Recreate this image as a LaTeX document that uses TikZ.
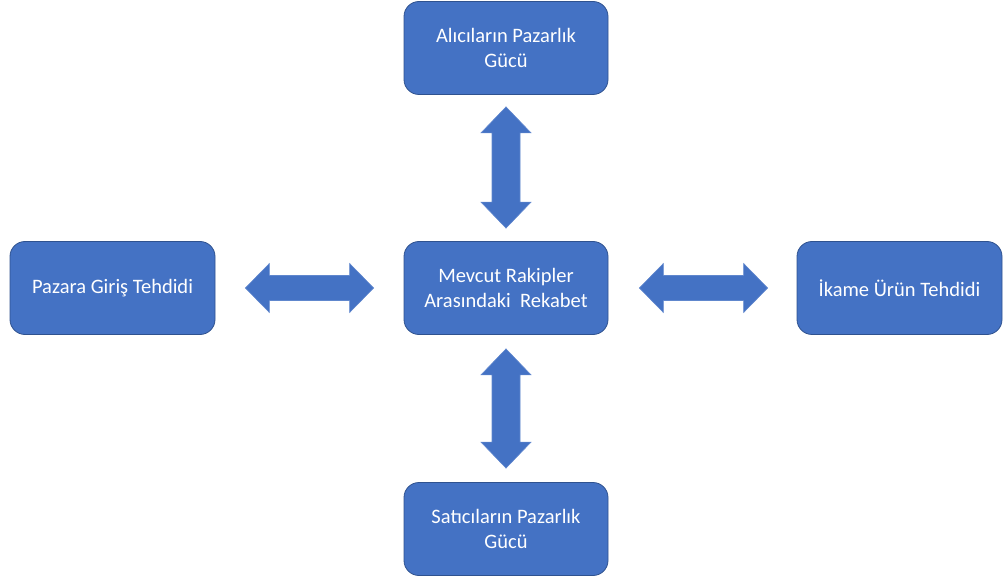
\documentclass[tikz,border=0pt]{standalone}
\usepackage{fontspec}
\setmainfont{Carlito}
\usetikzlibrary{calc}
\definecolor{boxblue}{HTML}{4472C4}
\definecolor{boxedge}{HTML}{2F528F}
\tikzset{
  force/.style={rectangle, rounded corners=15pt, fill=boxblue, draw=boxedge, line width=0.8pt,
    minimum width=204pt, minimum height=93pt, text=white, align=center,
    font=\fontsize{20.5}{25}\selectfont},
  biarrow/.style={fill=boxblue, draw=boxblue!85!white, line width=0.6pt}
}
\begin{document}
\begin{tikzpicture}[x=1pt,y=1pt]
  \useasboundingbox (0,0) rectangle (1004,-585);
  % forces
  \node[force] (alici) at (506,-48) {Alıcıların Pazarlık\\Gücü};
  \node[force] (rekabet) at (506,-288) {Mevcut Rakipler\\Arasındaki~~Rekabet};
  \node[force, minimum width=205pt] (giris) at (112.5,-288) {Pazara Giriş Tehdidi};
  \node[force, minimum width=205pt] (ikame) at (899.5,-288) {İkame Ürün Tehdidi};
  \node[force] (satici) at (506,-529) {Satıcıların Pazarlık\\Gücü};
  % arrow tips
  \coordinate (u1) at ($(alici.south)+(0,-12)$);
  \coordinate (u2) at ($(rekabet.north)+(0,13)$);
  \coordinate (d1) at ($(rekabet.south)+(0,-14)$);
  \coordinate (d2) at ($(satici.north)+(0,14)$);
  \coordinate (l1) at ($(giris.east)+(30,0)$);
  \coordinate (l2) at ($(rekabet.west)+(-30,0)$);
  \coordinate (r1) at ($(rekabet.east)+(31,0)$);
  \coordinate (r2) at ($(ikame.west)+(-29,0)$);
  % vertical arrows
  \draw[biarrow] (u1) -- ($(u1)+(25,-26)$) -- ($(u1)+(14,-26)$) -- ($(u2)+(14,26)$) -- ($(u2)+(25,26)$)
    -- (u2) -- ($(u2)+(-25,26)$) -- ($(u2)+(-14,26)$) -- ($(u1)+(-14,-26)$) -- ($(u1)+(-25,-26)$) -- cycle;
  \draw[biarrow] (d1) -- ($(d1)+(25,-26)$) -- ($(d1)+(14,-26)$) -- ($(d2)+(14,26)$) -- ($(d2)+(25,26)$)
    -- (d2) -- ($(d2)+(-25,26)$) -- ($(d2)+(-14,26)$) -- ($(d1)+(-14,-26)$) -- ($(d1)+(-25,-26)$) -- cycle;
  % horizontal arrows
  \draw[biarrow] (l1) -- ($(l1)+(24,24.5)$) -- ($(l1)+(24,12.5)$) -- ($(l2)+(-24,12.5)$) -- ($(l2)+(-24,24.5)$)
    -- (l2) -- ($(l2)+(-24,-24.5)$) -- ($(l2)+(-24,-12.5)$) -- ($(l1)+(24,-12.5)$) -- ($(l1)+(24,-24.5)$) -- cycle;
  \draw[biarrow] (r1) -- ($(r1)+(24,24.5)$) -- ($(r1)+(24,12.5)$) -- ($(r2)+(-24,12.5)$) -- ($(r2)+(-24,24.5)$)
    -- (r2) -- ($(r2)+(-24,-24.5)$) -- ($(r2)+(-24,-12.5)$) -- ($(r1)+(24,-12.5)$) -- ($(r1)+(24,-24.5)$) -- cycle;
\end{tikzpicture}
\end{document}
